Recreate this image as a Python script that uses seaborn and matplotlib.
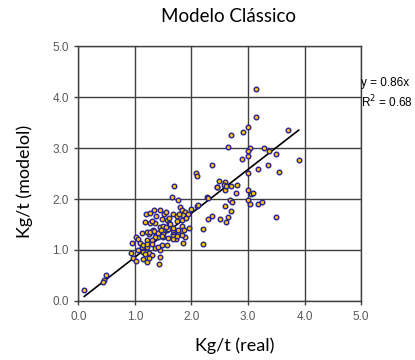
import matplotlib
matplotlib.use("Agg")
import matplotlib.pyplot as plt
import numpy as np
import pandas as pd
import seaborn as sns

# valores (real vs. modelo), kg/t
real_vals = [
    0.10, 0.48, 0.45, 0.43, 0.94, 0.93, 0.97, 1.02, 1.02, 1.06, 1.09, 1.06, 1.12,
    1.15, 1.21, 1.15, 1.25, 1.30, 1.44, 1.15, 1.22, 1.25, 1.43, 1.24, 1.32, 1.38,
    1.44, 1.50, 1.18, 1.27, 1.35, 1.47, 1.56, 1.44, 1.35, 1.59, 1.68, 1.73, 1.77,
    1.56, 1.41, 1.85, 1.88, 1.96, 2.20, 2.20,
    1.19, 1.27, 1.34, 1.44, 1.51, 1.30, 1.38, 1.48, 1.56, 1.61, 1.50, 1.59, 1.68,
    1.77, 1.83, 1.21, 1.27, 1.34, 1.41, 1.50, 1.35, 1.47, 1.68, 1.83, 1.68, 1.74,
    1.80, 1.83, 1.88, 1.94, 1.99, 1.85, 2.09, 2.12, 1.65, 1.77, 1.69, 2.08, 2.09,
    2.36, 2.27, 2.29,
    1.55, 1.60, 1.78, 1.74, 1.83, 1.90, 1.62, 1.55, 1.46, 1.12, 1.21, 1.30, 1.22,
    1.31, 1.41, 1.18, 1.68, 1.74, 1.67, 1.87,
    2.64, 3.04, 3.00, 3.00, 2.90, 3.00, 3.18, 2.49, 2.59, 2.58, 2.46, 2.59, 2.70,
    2.80, 3.00, 3.05, 3.09, 3.00, 3.03, 3.18, 3.25, 2.79, 2.68, 2.71, 2.59, 2.70,
    2.36, 2.29, 2.50, 2.64, 2.61, 3.14, 3.14, 3.00, 2.91, 3.70, 2.70, 3.29, 3.38,
    3.49, 3.90, 3.36, 3.54, 3.50, 2.45, 2.61,
]
model_vals = [
    0.21, 0.50, 0.41, 0.37, 1.13, 0.95, 0.84, 0.78, 1.25, 1.22, 1.14, 0.99, 1.05,
    1.09, 1.06, 0.96, 0.95, 0.90, 0.86, 0.83, 0.77, 0.84, 0.73, 1.32, 1.39, 1.29,
    1.45, 1.25, 1.55, 1.53, 1.52, 1.09, 1.09, 0.99, 1.03, 1.24, 1.32, 1.22, 1.35,
    1.39, 1.25, 1.13, 1.25, 1.44, 1.42, 1.11,
    1.71, 1.73, 1.78, 1.79, 1.70, 1.56, 1.66, 1.60, 1.58, 1.52, 1.48, 1.42, 1.39,
    1.40, 1.48, 1.35, 1.35, 1.37, 1.33, 1.32, 1.25, 1.27, 1.27, 1.29, 1.71, 1.66,
    1.84, 1.78, 1.75, 1.71, 1.80, 1.68, 1.86, 1.89, 2.04, 1.99, 2.25, 2.51, 2.46,
    2.67, 2.04, 2.02,
    1.75, 1.62, 1.71, 1.57, 1.58, 1.62, 1.50, 1.45, 1.40, 1.33, 1.19, 1.20, 1.11,
    1.11, 1.06, 0.93, 1.22, 1.27, 1.44, 1.39,
    3.02, 3.01, 2.94, 2.85, 2.78, 2.52, 2.58, 2.35, 2.33, 2.27, 2.24, 2.17, 2.25,
    2.27, 2.17, 2.09, 2.11, 1.99, 1.91, 1.91, 1.94, 2.11, 1.99, 1.94, 1.86, 1.76,
    1.66, 1.61, 1.60, 1.65, 1.55, 4.16, 3.61, 3.41, 3.31, 3.36, 3.26, 3.01, 2.94,
    2.89, 2.76, 2.67, 2.53, 1.65, 2.24, 2.25,
]
slope = 0.86
r2 = 0.68
ticks = [0.0, 1.0, 2.0, 3.0, 4.0, 5.0]

df = pd.DataFrame({"real": real_vals, "modelo": model_vals})

sns.set_theme(style="ticks")
plt.rcParams["font.family"] = ["Liberation Sans", "DejaVu Sans"]

fig = plt.figure(figsize=(4.15, 3.6), dpi=100)
ax = fig.add_axes([0.189, 0.164, 0.681, 0.708])

GRID = "#404040"
ax.set_axisbelow(True)
ax.grid(True, color=GRID, linewidth=1.0)

# linha de tendência y = 0.86x sobre o intervalo dos dados
xl = np.array([df["real"].min(), df["real"].max()])
ax.plot(xl, slope * xl, color="black", linewidth=1.2, zorder=2)

sns.scatterplot(data=df, x="real", y="modelo", ax=ax, s=11,
                color="#FFC000", edgecolor="#24248A", linewidth=1.0, zorder=3)

ax.set_xlim(0, 5)
ax.set_ylim(0, 5)
ax.set_xticks(ticks)
ax.set_yticks(ticks)
ax.set_xticklabels([f"{t:.1f}" for t in ticks])
ax.set_yticklabels([f"{t:.1f}" for t in ticks])
ax.tick_params(axis="both", labelsize=8.5, colors="#595959", length=3,
               width=1.0, direction="out", pad=4)
ax.tick_params(axis="both", color=GRID)
for sp in ax.spines.values():
    sp.set_visible(True)
    sp.set_color(GRID)
    sp.set_linewidth(1.0)

lab_font = ["Lato", "DejaVu Sans"]
ax.set_xlabel("Kg/t (real)", fontsize=13, family=lab_font, color="black")
ax.set_ylabel("Kg/t (modelol)", fontsize=13, family=lab_font, color="black")
ax.xaxis.set_label_coords(0.554, -0.145)
ax.yaxis.set_label_coords(-0.16, 0.47)

fig.text(228 / 415, 1 - 17 / 360, "Modelo Clássico", fontsize=13.5,
         family=lab_font, ha="center", va="center", color="black")

ax.text(1.0, 0.856, f"y = {slope:.2f}x", transform=ax.transAxes, fontsize=8.5,
        ha="left", va="center", color="black")
ax.text(1.0, 0.78, f"R$^2$ = {r2:.2f}", transform=ax.transAxes, fontsize=8.5,
        ha="left", va="center", color="black")

fig.savefig("out.png", dpi=100)
